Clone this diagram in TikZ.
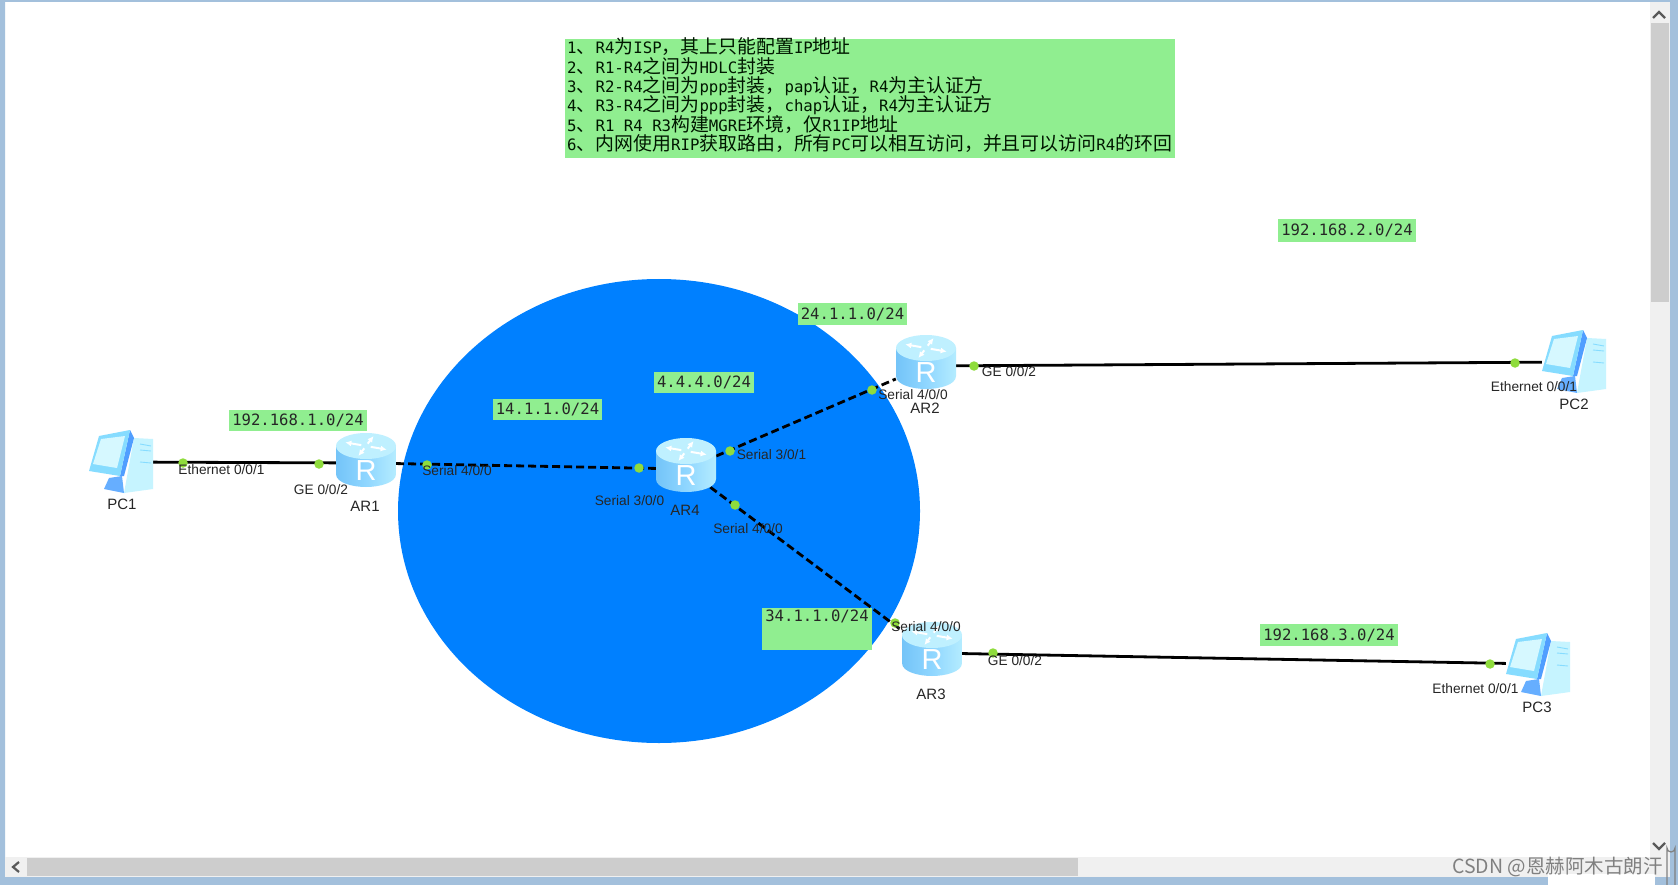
\documentclass[tikz,border=0pt]{standalone}
\usepackage{fontspec}
\setmainfont{Liberation Sans}
\setmonofont{DejaVu Sans Mono}
\newfontfamily\cjkf{Noto Sans CJK SC}
\usetikzlibrary{arrows.meta}
\definecolor{frameblue}{HTML}{A3C0DC}
\definecolor{netblue}{HTML}{0080FF}
\definecolor{notegreen}{HTML}{90EE90}
\definecolor{portgreen}{HTML}{8FDC3C}
\definecolor{barbg}{HTML}{F0F0F0}
\definecolor{barthumb}{HTML}{CDCDCD}
\definecolor{rleft}{HTML}{74C4F8}
\definecolor{rmid}{HTML}{8FD6FF}
\definecolor{rright}{HTML}{B4ECFF}
\definecolor{rtop}{HTML}{BFF0FF}
\definecolor{pctower}{HTML}{C6F4FF}
\definecolor{pcframe}{HTML}{86DCFF}
\definecolor{pcscreen}{HTML}{D6F8FF}
\definecolor{pcstand}{HTML}{66AEFF}
\definecolor{pcside}{HTML}{509EFF}
\newcommand\CJ[1]{{\fontsize{18.9}{19}\cjkf #1}}
\tikzset{
  x=1pt,y=-1pt,
  subnet/.style={fill=notegreen,inner sep=0pt,font=\ttfamily\fontsize{15.6}{16}\selectfont,text=black!85},
  noteline/.style={anchor=west,inner sep=0pt,font=\ttfamily\fontsize{15.7}{16}\selectfont,text=black!85!green!60!black},
  ifbox/.style={inner sep=0pt,minimum width=60,minimum height=36},
  pcbox/.style={inner sep=0pt,minimum width=64,minimum height=60},
  solidlink/.style={draw=black,line width=2.8pt},
  seriallink/.style={draw=black,line width=2.8pt,dash pattern=on 8pt off 4pt},
  port/.style={circle,fill=portgreen,inner sep=0pt,minimum size=9.5pt},
  iflabel/.style={inner sep=0pt,font=\fontsize{13.7}{14}\selectfont,text=black!85},
  devlabel/.style={inner sep=0pt,font=\fontsize{15}{16}\selectfont,text=black!85},
  chev/.style={draw=black!65,line width=2.2pt},
  router/.pic={
    \shade[left color=rleft,right color=rright,middle color=rmid]
      (-30,-14) -- (-30,14) .. controls (-30,23) and (-13,27) .. (0,27) .. controls (13,27) and (30,23) .. (30,14) -- (30,-14) -- cycle;
    \fill[rtop] (0,-14) ellipse [x radius=30,y radius=13];
    \foreach \a in {20,110,200,290}{
      \draw[white,line width=2pt,-{Latex[length=6pt,width=6pt]}] (\a:5 and 2.5) ++(0,-14) -- ++(\a:17 and 8);
    }
    \node[inner sep=0pt,text=white,font=\fontsize{29}{29}\selectfont] at (0,11) {R};
  },
  computer/.pic={
    \fill[pctower] (13,-23) -- (32,-22) -- (32,28) -- (3,32) -- cycle;
    \draw[pcframe,line width=.9pt] (19,-17) -- (30,-15) (19,-11) -- (30,-10) (19,1) -- (30,2);
    \fill[pcstand] (-12,17) -- (1,15) -- (3,32) -- (-17,28) -- cycle;
    \fill[pcside] (9,-31) -- (13,-23) -- (3,15) -- (-1,15) -- cycle;
    \fill[pcframe] (-22,-25) -- (9,-31) -- (-1,15) -- (-32,10) -- cycle;
    \fill[pcscreen] (-20,-22) -- (4,-25) -- (-4,7) -- (-28,3) -- cycle;
  },
}
\begin{document}
\begin{tikzpicture}
\useasboundingbox (0,0) rectangle (1678,885);
% window
\fill[white] (0,0) rectangle (1678,885);
\fill[frameblue] (0,0) rectangle (1678,2) (0,0) rectangle (5,885) (1670,0) rectangle (1678,885) (0,877) rectangle (1678,885);
\fill[barbg] (5,857) rectangle (1670,877);
\fill[barbg] (1650,2) rectangle (1670,857);
\fill[barthumb] (27,858) rectangle (1078,876);
\fill[barthumb] (1651,23) rectangle (1669,302);
\draw[chev] (19,862) -- (13,867) -- (19,872);
\draw[chev] (1653,18) -- (1659,12) -- (1665,18);
\draw[chev] (1653,843) -- (1659,849) -- (1665,843);
\draw[black!50,line width=1.2pt] (1667,885) -- (1667,848) arc[start angle=180,end angle=0,radius=4] -- (1675,885);
\fill[white] (1548,874) rectangle (1655,885);
% network area
\fill[netblue] (659,511) ellipse [x radius=261,y radius=232];
% notes
\node[fill=notegreen,minimum width=610,minimum height=119,inner sep=0pt,anchor=north west] (notes) at (565,39) {};
\node[noteline] (n1) at (567,47) {1\CJ{、}R4\CJ{为}ISP\CJ{，其上只能配置}IP\CJ{地址}};
\node[noteline] (n2) at (567,66) {2\CJ{、}R1-R4\CJ{之间为}HDLC\CJ{封装}};
\node[noteline] (n3) at (567,86) {3\CJ{、}R2-R4\CJ{之间为}ppp\CJ{封装，}pap\CJ{认证，}R4\CJ{为主认证方}};
\node[noteline] (n4) at (567,105) {4\CJ{、}R3-R4\CJ{之间为}ppp\CJ{封装，}chap\CJ{认证，}R4\CJ{为主认证方}};
\node[noteline] (n5) at (567,125) {5\CJ{、}R1 R4 R3\CJ{构建}MGRE\CJ{环境，仅}R1IP\CJ{地址}};
\node[noteline] (n6) at (567,144) {6\CJ{、内网使用}RIP\CJ{获取路由，所有}PC\CJ{可以相互访问，并且可以访问}R4\CJ{的环回}};
% subnet labels
\node[subnet,minimum width=138,minimum height=21] (s1) at (298,420) {192.168.1.0/24};
\node[subnet,minimum width=109,minimum height=21] (s14) at (547.5,409) {14.1.1.0/24};
\node[subnet,minimum width=100,minimum height=21] (s4) at (704,382.5) {4.4.4.0/24};
\node[subnet,minimum width=109,minimum height=22] (s24) at (852.5,314) {24.1.1.0/24};
\node[subnet,minimum width=110,minimum height=42,text height=13pt,text depth=29pt] (s34) at (817,629) {34.1.1.0/24};
\node[subnet,minimum width=138,minimum height=23] (s2) at (1347,230.5) {192.168.2.0/24};
\node[subnet,minimum width=138,minimum height=22] (s3) at (1329,635) {192.168.3.0/24};
% device anchors
\node[pcbox] (pc1) at (121,462) {};
\node[ifbox] (ar1) at (366,463) {};
\node[ifbox] (ar4) at (686,469) {};
\node[ifbox] (ar2) at (926,366) {};
\node[ifbox] (ar3) at (932,653) {};
\node[pcbox] (pc2) at (1574,362) {};
\node[pcbox] (pc3) at (1538,664) {};
% connectors
\draw[solidlink] (pc1) -- (ar1);
\draw[solidlink] (ar2) -- (pc2);
\draw[solidlink] (ar3) -- (pc3);
\draw[seriallink] (ar1) -- (ar4);
\draw[seriallink] (ar4) -- (ar2);
\draw[seriallink] (ar4) -- (ar3);
% icons
\pic at (121,461) {computer};
\pic at (366,460) {router};
\pic at (686,465) {router};
\pic at (926,362) {router};
\pic at (932,649) {router};
\pic at (1574,361) {computer};
\pic at (1538,664) {computer};
% ports
\node[port] (p1) at (183,463) {};
\node[port] (p2) at (319,464) {};
\node[port] (p3) at (427,465) {};
\node[port] (p4) at (639,468) {};
\node[port] (p5) at (730,451) {};
\node[port] (p6) at (872,390) {};
\node[port] (p7) at (735,505) {};
\node[port] (p8) at (895,623) {};
\node[port] (p9) at (993,653) {};
\node[port] (p10) at (974,366) {};
\node[port] (p11) at (1515,363) {};
\node[port] (p12) at (1490,664) {};
% interface labels
\node[iflabel] (l1) at (221.5,470) {Ethernet 0/0/1};
\node[iflabel] (l2) at (321,490) {GE 0/0/2};
\node[iflabel] (l3) at (457,471) {Serial 4/0/0};
\node[iflabel] (l4) at (629.5,501) {Serial 3/0/0};
\node[iflabel] (l5) at (771.5,455) {Serial 3/0/1};
\node[iflabel] (l6) at (748,529) {Serial 4/0/0};
\node[iflabel] (l7) at (913,395) {Serial 4/0/0};
\node[iflabel] (l8) at (1009,372) {GE 0/0/2};
\node[iflabel] (l9) at (926,627) {Serial 4/0/0};
\node[iflabel] (l10) at (1015,661) {GE 0/0/2};
\node[iflabel] (l11) at (1534,387) {Ethernet 0/0/1};
\node[iflabel] (l12) at (1475.5,689) {Ethernet 0/0/1};
% device labels
\node[devlabel] (d1) at (122,504) {PC1};
\node[devlabel] (d2) at (365,506) {AR1};
\node[devlabel] (d3) at (685,510) {AR4};
\node[devlabel] (d4) at (925,408) {AR2};
\node[devlabel] (d5) at (931,694) {AR3};
\node[devlabel] (d6) at (1574,404) {PC2};
\node[devlabel] (d7) at (1537,707) {PC3};
% watermark
\node[inner sep=0pt,anchor=east,text=black!50,font=\cjkf\fontsize{19.5}{20}\selectfont] (wm) at (1663,867) {CSDN @恩赫阿木古朗汗};
\end{tikzpicture}
\end{document}
